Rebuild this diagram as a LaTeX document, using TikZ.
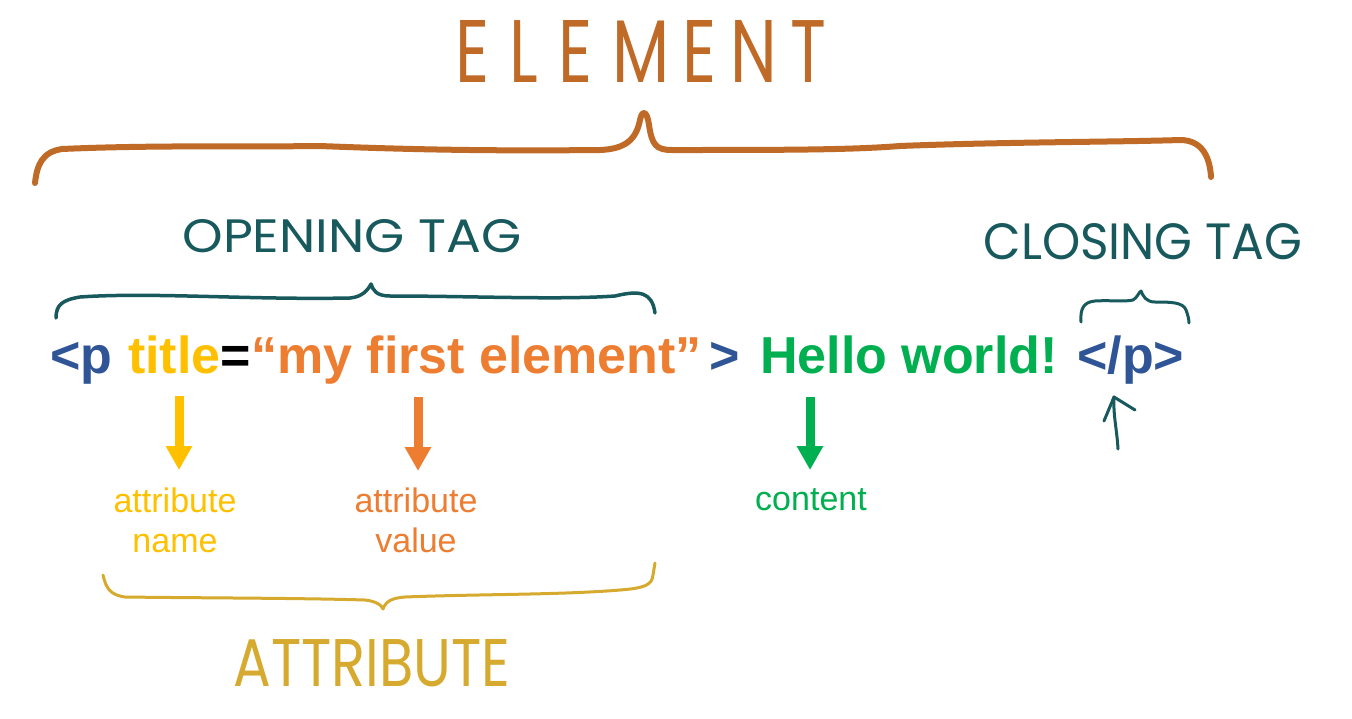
\documentclass[tikz,border=0pt]{standalone}
\usepackage{fontspec}
\usepackage{graphicx}
\setmainfont{Liberation Sans}
\newfontfamily\handfont{Poppins}
\usetikzlibrary{arrows.meta}
\definecolor{cblue}{HTML}{2F5597}
\definecolor{cyellow}{HTML}{FFC000}
\definecolor{corange}{HTML}{ED7D31}
\definecolor{cgreen}{HTML}{00B050}
\definecolor{cbrown}{HTML}{C06A28}
\definecolor{cteal}{HTML}{17595C}
\definecolor{cgold}{HTML}{D6AA2E}
\tikzset{
  code/.style={font=\fontsize{52}{60}\selectfont\bfseries, inner sep=0pt, anchor=base west},
  lbl/.style={font=\fontsize{34}{40}\selectfont, inner sep=0pt, anchor=base},
  hand/.style={inner sep=0pt, anchor=center},
  arr/.style={line width=9pt, -{Triangle[width=25pt,length=24pt]}},
  sketch/.style={line cap=round, line join=round},
}
\begin{document}
\begin{tikzpicture}[x=1pt,y=-1pt]
\useasboundingbox[fill=white] (0,0) rectangle (1352,718);

% hand-written titles
\node[hand, text=cbrown] (elem) at (641,51) {\resizebox{370pt}{62pt}{\handfont E\kern.3em L\kern.3em E\kern.3em M\kern.2em E\kern.2em N\kern.2em T}};
\node[hand, text=cteal] (open) at (352,236) {\resizebox{339pt}{33pt}{\handfont OPENING TAG}};
\node[hand, text=cteal] (close) at (1143,242) {\resizebox{319pt}{36pt}{\handfont CLOSING TAG}};
\node[hand, text=cgold] (attr) at (372,663) {\resizebox{277pt}{47pt}{\handfont ATTRIBUTE}};

% code line
\node[code, text=cblue] (lt) at (50,373) {<p};
\node[code, text=cyellow] (title) at (128,373) {title};
\node[code, text=black] (eq) at (220,373) {=};
\node[code, text=corange] (val) at (251,373) {“my first element”};
\node[code, text=cblue] (gt) at (709,373) {>};
\node[code, text=cgreen] (hello) at (760,373) {Hello world!};
\node[code, text=cblue] (endtag) at (1077,373) {</p>};

% labels
\node[lbl, text=cyellow] (an1) at (175,512) {attribute};
\node[lbl, text=cyellow] (an2) at (175,552) {name};
\node[lbl, text=corange] (av1) at (416,512) {attribute};
\node[lbl, text=corange] (av2) at (416,552) {value};
\node[lbl, text=cgreen] (cont) at (811,510) {content};

% arrows
\coordinate (ya) at (179,396); \coordinate (yb) at (179,470);
\coordinate (oa) at (418,397); \coordinate (ob) at (418,471);
\coordinate (ga) at (810,397); \coordinate (gb) at (810,470);
\draw[arr, cyellow] (ya) -- (yb);
\draw[arr, corange] (oa) -- (ob);
\draw[arr, cgreen] (ga) -- (gb);

% element brace
\draw[sketch, cbrown, line width=6pt] (35,183) .. controls (37,165) and (42,152) .. (62,149)
  .. controls (150,145) and (250,147) .. (320,146)
  .. controls (420,150) and (500,151) .. (600,150)
  .. controls (625,149) and (636,140) .. (640,120)
  .. controls (642,110) and (647,110) .. (649,125)
  .. controls (652,145) and (656,150) .. (672,150)
  .. controls (780,150) and (850,150) .. (900,146)
  .. controls (1000,142) and (1120,142) .. (1180,140)
  .. controls (1204,140) and (1210,160) .. (1211,177);

% opening tag brace
\draw[sketch, cteal, line width=3.5pt] (56,318) .. controls (56,305) and (62,300) .. (80,297)
  .. controls (150,292) and (250,300) .. (350,298)
  .. controls (362,297) and (368,290) .. (371,284)
  .. controls (373,290) and (376,296) .. (390,296)
  .. controls (470,296) and (560,300) .. (615,296)
  .. controls (640,290) and (652,292) .. (655,313);

% closing tag brace
\draw[sketch, cteal, line width=3pt] (1081,322) .. controls (1080,308) and (1084,302) .. (1095,301)
  .. controls (1110,300) and (1125,302) .. (1133,300)
  .. controls (1137,298) and (1139,292) .. (1141,291)
  .. controls (1143,296) and (1146,302) .. (1155,302)
  .. controls (1170,302) and (1183,302) .. (1186,310)
  .. controls (1188,315) and (1189,320) .. (1189,323);

% closing tag arrow
\coordinate (ta) at (1118,449); \coordinate (tb) at (1114,397);
\draw[sketch, cteal, line width=3pt] (ta) .. controls (1117,430) and (1113,415) .. (tb);
\draw[sketch, cteal, line width=3pt] (1104,421) -- (tb) -- (1135,410);

% attribute brace
\draw[sketch, cgold, line width=3pt] (103,575) .. controls (106,588) and (110,595) .. (125,597)
  .. controls (200,598) and (300,598) .. (365,600)
  .. controls (375,601) and (382,605) .. (383,609)
  .. controls (386,601) and (392,598) .. (405,597)
  .. controls (480,594) and (560,595) .. (620,590)
  .. controls (645,588) and (652,585) .. (653,575) -- (655,563);
\end{tikzpicture}
\end{document}
